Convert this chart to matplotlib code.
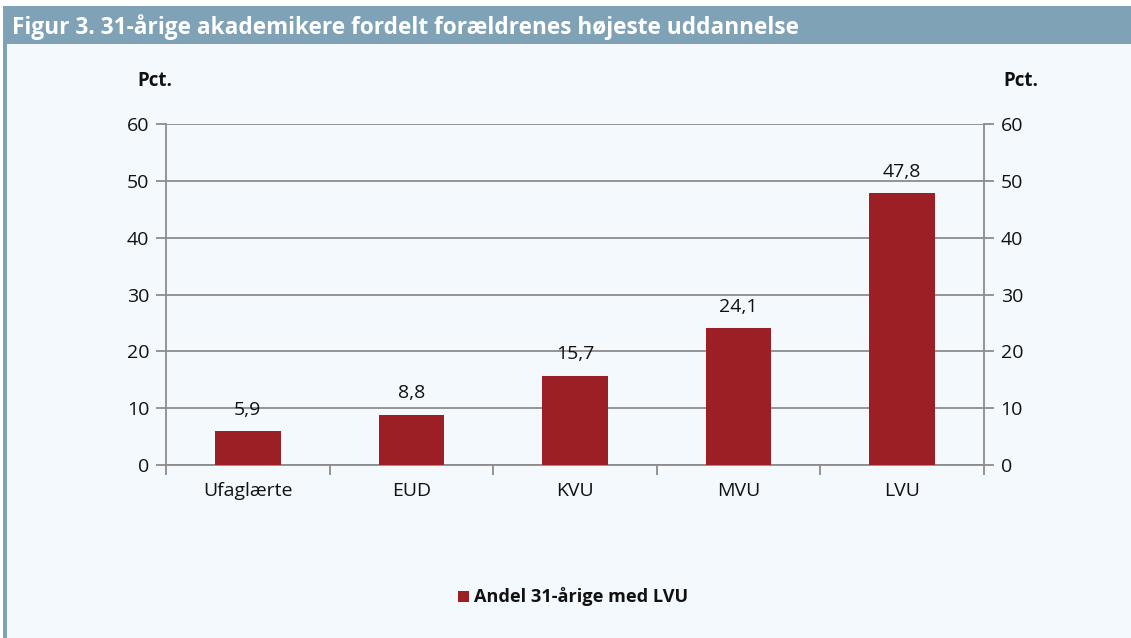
import matplotlib
matplotlib.use("Agg")
import matplotlib.pyplot as plt
from matplotlib.patches import Rectangle
import numpy as np

categories = ["Ufaglærte", "EUD", "KVU", "MVU", "LVU"]
values = [5.9, 8.8, 15.7, 24.1, 47.8]
value_labels = ["5,9", "8,8", "15,7", "24,1", "47,8"]
yticks = [0, 10, 20, 30, 40, 50, 60]
title = "Figur 3. 31-årige akademikere fordelt forældrenes højeste uddannelse"
series_name = "Andel 31-årige med LVU"

plt.rcParams['font.family'] = ['Open Sans', 'DejaVu Sans']

W, H = 1131, 638
fig = plt.figure(figsize=(W / 100, H / 100), dpi=100)
fig.patch.set_facecolor("white")

bg = "#F4F9FD"
frame = "#7FA2B7"
bar_color = "#9B1F24"
grid_color = "#8C8C8C"
tick_fs = 14

# background panel
fig.patches.append(Rectangle((3 / W, 0), 1 - 3 / W, 1 - 6 / H, transform=fig.transFigure,
                             facecolor=bg, edgecolor="none", zorder=-2))
# title bar
fig.patches.append(Rectangle((3 / W, 1 - 44 / H), 1 - 3 / W, 38 / H, transform=fig.transFigure,
                             facecolor=frame, edgecolor="none", zorder=-1))
# left stripe
fig.patches.append(Rectangle((3 / W, 0), 4 / W, 1 - 44 / H, transform=fig.transFigure,
                             facecolor=frame, edgecolor="none", zorder=-1))
fig.text(12 / W, 1 - 27 / H, title, color="white", fontsize=16.3, fontweight="bold",
         va="center", ha="left", zorder=2)

ax = fig.add_axes([166 / W, 1 - 465 / H, 818 / W, 341 / H])
ax.set_zorder(5)
ax.patch.set_alpha(0)
x = np.arange(len(categories))
ax.bar(x, values, width=0.4, color=bar_color, zorder=3)
for xi, v, lab in zip(x, values, value_labels):
    ax.annotate(lab, (xi, v), xytext=(0, 9), textcoords="offset points",
                ha="center", va="bottom", fontsize=tick_fs, color="#111111")

ax.set_xlim(-0.5, len(categories) - 0.5)
ax.set_ylim(0, 60)
ax.set_yticks(yticks)
ax.set_yticklabels([str(t) for t in yticks], fontsize=tick_fs)
ax.yaxis.grid(True, color=grid_color, linewidth=1.3, zorder=0)
ax.set_axisbelow(True)
ax.tick_params(axis="y", which="both", length=7, width=1.3, color=grid_color, pad=5,
               labelright=True, right=True, labelsize=tick_fs, labelcolor="#111111")
ax.set_xticks(x)
ax.set_xticklabels(categories, fontsize=tick_fs, color="#111111")
ax.tick_params(axis="x", which="major", length=0, pad=12)
ax.set_xticks(np.arange(-0.5, len(categories), 1), minor=True)
ax.tick_params(axis="x", which="minor", length=7, width=1.3, color=grid_color)
ax.spines["top"].set_visible(False)
for s in ["left", "right", "bottom"]:
    ax.spines[s].set_color(grid_color)
    ax.spines[s].set_linewidth(1.3)

fig.text(155 / W, 1 - 81 / H, "Pct.", fontsize=13.5, fontweight="bold", ha="center", va="center",
         color="#111111")
fig.text(1021 / W, 1 - 81 / H, "Pct.", fontsize=13.5, fontweight="bold", ha="center", va="center",
         color="#111111")

# legend
fig.patches.append(Rectangle((458 / W, 1 - 602 / H), 11 / W, 11 / H, transform=fig.transFigure,
                             facecolor=bar_color, edgecolor="none", zorder=2))
fig.text(474 / W, 1 - 597 / H, series_name, fontsize=13.1, fontweight="bold", ha="left",
         va="center", color="#111111")

fig.savefig("out.png", dpi=100, facecolor=fig.get_facecolor())
